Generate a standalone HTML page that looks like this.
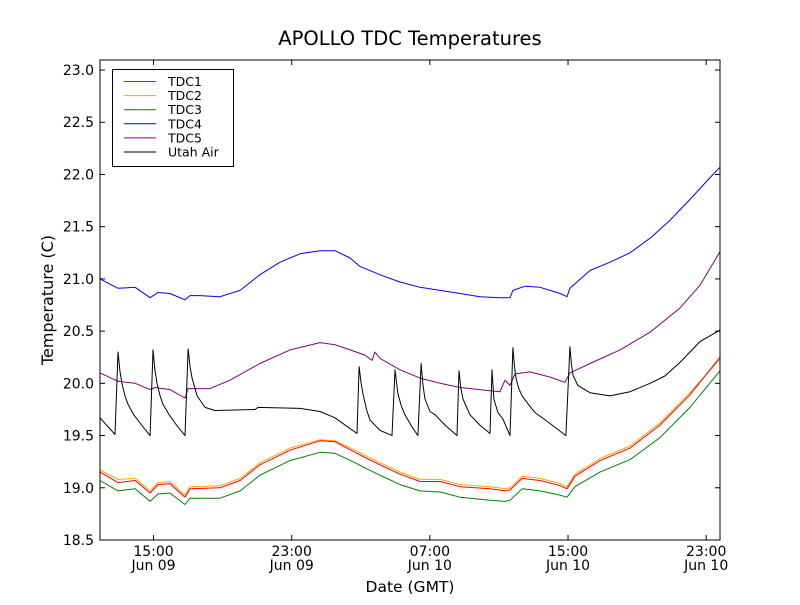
<!DOCTYPE html>
<html><head><meta charset="utf-8"><style>
body{margin:0;background:#fff;font-family:"Liberation Sans","DejaVu Sans",sans-serif;}
svg text{font-family:"DejaVu Sans","Liberation Sans",sans-serif;}
</style></head><body>
<svg id="chart" width="800" height="600" xmlns="http://www.w3.org/2000/svg">
<rect width="800" height="600" fill="#fff"/>
<text x="410" y="45" font-size="19.5" text-anchor="middle">APOLLO TDC Temperatures</text>
<text x="410" y="592" font-size="15.5" text-anchor="middle">Date (GMT)</text>
<text x="53" y="300" font-size="16" text-anchor="middle" transform="rotate(-90 53 300)">Temperature (C)</text>
<g id="series"></g>
<g id="axes"></g>
<g id="legend"></g>
</svg>
<script>
const yTicks=[18.5,19.0,19.5,20.0,20.5,21.0,21.5,22.0,22.5,23.0];
const xTickHours=[15,23,31,39,47];
const xTickTimes=["15:00","23:00","07:00","15:00","23:00"];
const xTickDates=["Jun 09","Jun 09","Jun 10","Jun 10","Jun 10"];
const seriesNames=["TDC1","TDC2","TDC3","TDC4","TDC5","Utah Air"];
const seriesColors=["#ff0000","#ffa500","#008000","#0000ff","#800080","#000000"];
const tdcTimes=[11.90,12.94,13.93,14.80,15.26,15.95,16.82,17.11,18.85,20.01,21.16,22.90,24.64,25.51,26.67,27.24,28.11,29.27,30.43,31.59,32.75,34.48,35.35,35.64,36.34,37.38,38.54,38.94,39.40,40.85,42.59,44.32,46.06,47.80];
const tdc1=[19.15,19.05,19.07,18.95,19.03,19.04,18.91,18.99,19.00,19.07,19.22,19.36,19.45,19.44,19.34,19.29,19.22,19.13,19.06,19.06,19.01,18.99,18.97,18.98,19.09,19.07,19.02,18.99,19.11,19.26,19.38,19.60,19.89,20.25];
const tdc2=[19.17,19.08,19.09,18.97,19.05,19.06,18.93,19.01,19.02,19.09,19.24,19.38,19.46,19.45,19.36,19.31,19.24,19.15,19.08,19.08,19.03,19.01,18.99,19.00,19.11,19.09,19.04,19.01,19.13,19.28,19.40,19.62,19.91,20.23];
const tdc3=[19.07,18.97,18.99,18.87,18.94,18.95,18.84,18.90,18.90,18.97,19.12,19.26,19.34,19.33,19.24,19.19,19.12,19.03,18.97,18.96,18.91,18.88,18.87,18.88,18.99,18.97,18.93,18.91,19.01,19.15,19.27,19.48,19.77,20.12];
const tdc4Times=[11.90,12.94,13.93,14.80,15.26,15.95,16.82,17.11,17.69,18.85,20.01,21.16,22.32,23.48,24.64,25.51,26.38,26.95,28.11,29.27,30.43,31.59,32.75,33.90,35.06,35.64,35.81,36.51,37.38,38.54,38.94,39.11,40.27,41.43,42.59,43.75,44.90,46.06,47.22,47.80];
const tdc4=[21.00,20.91,20.92,20.82,20.87,20.86,20.80,20.84,20.84,20.83,20.89,21.04,21.16,21.24,21.27,21.27,21.20,21.12,21.04,20.97,20.92,20.89,20.86,20.83,20.82,20.82,20.89,20.93,20.92,20.86,20.83,20.91,21.08,21.16,21.25,21.39,21.56,21.76,21.97,22.07];
const tdc5Times=[11.90,12.94,13.93,14.80,15.09,15.95,16.82,17.00,18.27,19.43,21.16,22.90,24.64,25.51,26.38,27.24,27.65,27.82,28.11,29.27,30.43,31.59,32.75,34.48,35.06,35.35,35.64,35.93,36.80,37.96,38.82,39.11,40.27,42.01,43.75,45.48,46.64,47.80];
const tdc5=[20.10,20.02,20.00,19.94,19.96,19.94,19.86,19.95,19.95,20.03,20.19,20.32,20.39,20.37,20.32,20.27,20.22,20.30,20.24,20.13,20.05,20.00,19.96,19.93,19.92,20.03,19.98,20.09,20.11,20.06,20.01,20.10,20.19,20.32,20.49,20.72,20.94,21.26];
const airTimes=[11.90,12.77,12.94,13.05,13.17,13.35,13.52,13.85,14.22,14.50,14.80,14.97,15.08,15.20,15.38,15.55,15.90,16.24,16.52,16.82,17.00,17.12,17.23,17.52,17.98,18.56,20.88,21.05,23.48,24.64,25.51,26.78,26.90,27.02,27.13,27.33,27.53,28.11,28.81,28.98,29.15,29.35,29.56,29.90,30.31,30.49,30.60,30.72,31.01,31.30,31.88,32.57,32.69,32.80,32.92,33.32,33.90,34.48,34.60,34.71,34.94,35.23,35.64,35.81,35.90,35.99,36.15,36.34,36.70,37.09,37.60,38.08,38.88,39.11,39.20,39.28,39.57,40.27,41.43,42.59,43.75,44.61,45.48,46.64,47.80];
const air=[19.67,19.51,20.30,20.12,20.00,19.88,19.80,19.70,19.62,19.56,19.50,20.32,20.13,20.00,19.88,19.80,19.70,19.62,19.56,19.50,20.33,20.15,20.05,19.88,19.77,19.74,19.75,19.77,19.76,19.73,19.67,19.52,20.16,20.00,19.90,19.75,19.65,19.55,19.50,20.13,19.90,19.78,19.70,19.60,19.50,20.19,19.98,19.85,19.73,19.70,19.60,19.50,20.12,19.95,19.85,19.70,19.60,19.52,20.13,19.85,19.72,19.66,19.50,20.34,20.16,20.05,19.95,19.88,19.80,19.72,19.66,19.60,19.50,20.35,20.18,20.08,19.98,19.91,19.88,19.92,20.00,20.07,20.20,20.40,20.51];

const L=100,R=720,T=60,B=540,XMIN=11.9,XMAX=47.8,YMIN=18.5,YMAX=23.096;
const xs=h=>L+(h-XMIN)/(XMAX-XMIN)*(R-L);
const ys=v=>B-(v-YMIN)/(YMAX-YMIN)*(B-T);
const NS="http://www.w3.org/2000/svg";
function mk(tag,attrs,parent){const e=document.createElementNS(NS,tag);for(const k in attrs)e.setAttribute(k,attrs[k]);parent.appendChild(e);return e;}
const sg=document.getElementById('series');
const data=[[tdcTimes,tdc1],[tdcTimes,tdc2],[tdcTimes,tdc3],[tdc4Times,tdc4],[tdc5Times,tdc5],[airTimes,air]];
const order=[3,4,5,1,0,2];
order.forEach(i=>{
  const [t,v]=data[i];
  const p=mk('polyline',{points:t.map((h,j)=>xs(h).toFixed(1)+','+ys(v[j]).toFixed(1)).join(' '),fill:'none',stroke:seriesColors[i],'stroke-width':1,'stroke-linejoin':'round'},sg);
  
  
});
const ax=document.getElementById('axes');
const fr=mk('rect',{x:L,y:T,width:R-L,height:B-T,fill:'none',stroke:'#000','stroke-width':1},ax);


yTicks.forEach(v=>{
  const y=ys(v);
  mk('line',{x1:L,x2:L+5,y1:y,y2:y,stroke:'#000'},ax);
  mk('line',{x1:R,x2:R-5,y1:y,y2:y,stroke:'#000'},ax);
  const t=mk('text',{x:L-6,y:y+5,'font-size':14,'text-anchor':'end'},ax);
  t.textContent=v.toFixed(1);
  
  
});
xTickHours.forEach((h,i)=>{
  const x=xs(h);
  mk('line',{x1:x,x2:x,y1:B,y2:B-5,stroke:'#000'},ax);
  mk('line',{x1:x,x2:x,y1:T,y2:T+5,stroke:'#000'},ax);
  const t=mk('text',{x:x,y:B+16,'font-size':14,'text-anchor':'middle'},ax);
  t.textContent=xTickTimes[i];
  
  
  const d=mk('text',{x:x,y:B+30,'font-size':14,'text-anchor':'middle'},ax);
  d.textContent=xTickDates[i];
  
  
});
const lg=document.getElementById('legend');
mk('rect',{x:112.5,y:69.5,width:121,height:97,fill:'#fff',stroke:'#000'},lg);
seriesNames.forEach((n,i)=>{
  const y=81.5+i*14.1;
  const e=mk('g',{},lg);
  
  
  mk('line',{x1:124,x2:156,y1:y,y2:y,stroke:seriesColors[i]},e);
  const t=mk('text',{x:168,y:y+4.5,'font-size':12.5},e);
  t.textContent=n;
});
</script>
</body></html>
